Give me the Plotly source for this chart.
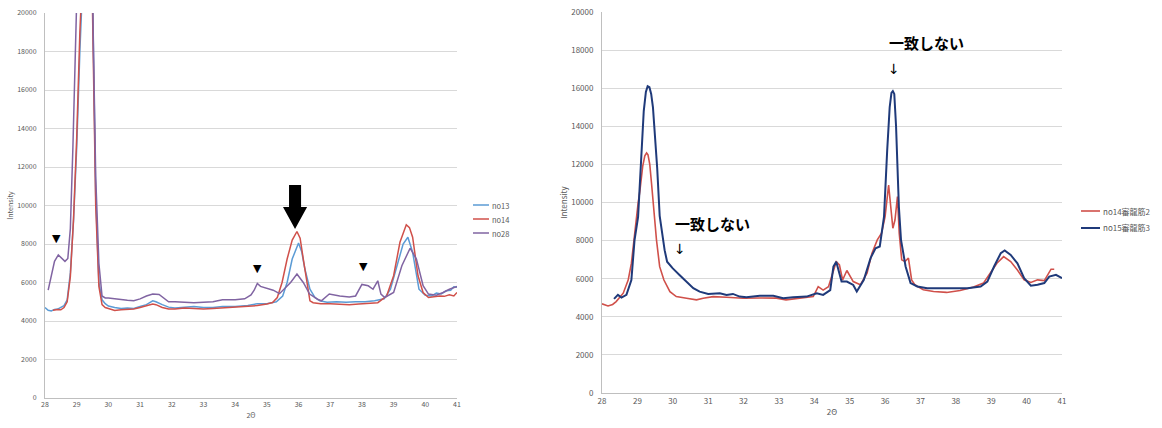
import plotly.graph_objects as go

# ---------------- left chart data ----------------
no13_x = [28.0, 28.1, 28.2, 28.3, 28.4, 28.5, 28.6, 28.7, 28.8, 28.9, 29.0, 29.1, 29.2, 29.35, 29.5, 29.6, 29.7, 29.8, 29.9,
          30.0, 30.2, 30.4, 30.6, 30.8, 31.0, 31.2, 31.4, 31.5, 31.7, 31.9, 32.1, 32.4, 32.7, 33.0, 33.3, 33.6, 34.0, 34.4,
          34.7, 35.0, 35.3, 35.5, 35.64, 35.8, 36.0, 36.1, 36.2, 36.36, 36.52, 36.67, 36.9, 37.2, 37.5, 37.8, 38.1, 38.4,
          38.7, 38.9, 39.15, 39.3, 39.45, 39.6, 39.8, 40.0, 40.2, 40.35, 40.5, 40.66, 40.8, 40.9, 41.0]
no13_y = [4700, 4560, 4520, 4600, 4620, 4700, 4800, 5100, 6500, 9200, 13000, 18000, 24000, 28000, 21000, 10500, 6000, 5100, 4900,
          4780, 4700, 4650, 4680, 4650, 4750, 4850, 5050, 5000, 4850, 4720, 4680, 4720, 4750, 4700, 4700, 4750, 4750, 4800,
          4900, 4900, 5000, 5300, 6000, 7220, 8050, 7600, 6700, 5650, 5220, 5050, 4980, 5000, 4970, 5000, 5000, 5050,
          5150, 5650, 7050, 8000, 8350, 7570, 5650, 5340, 5300, 5450, 5400, 5570, 5600, 5780, 5750]

no14_x = [28.25, 28.4, 28.5, 28.6, 28.7, 28.8, 28.9, 29.0, 29.1, 29.2, 29.35, 29.5, 29.6, 29.7, 29.8, 29.9, 30.0, 30.2, 30.4,
          30.6, 30.8, 31.0, 31.2, 31.4, 31.5, 31.7, 31.9, 32.1, 32.4, 32.7, 33.0, 33.3, 33.6, 34.0, 34.4, 34.7, 35.0, 35.18,
          35.33, 35.48, 35.64, 35.8, 35.95, 36.05, 36.15, 36.26, 36.36, 36.46, 36.7, 37.0, 37.3, 37.6, 37.9, 38.2, 38.5,
          38.78, 39.0, 39.2, 39.4, 39.5, 39.6, 39.77, 39.93, 40.1, 40.3, 40.45, 40.6, 40.76, 40.9, 41.0]
no14_y = [4560, 4600, 4580, 4700, 5000, 6300, 9300, 13500, 19000, 25000, 28500, 20000, 10000, 5800, 4850, 4700, 4650, 4550, 4580,
          4600, 4620, 4700, 4780, 4880, 4850, 4700, 4620, 4620, 4680, 4650, 4620, 4650, 4680, 4700, 4750, 4800, 4880, 4960,
          5220, 6000, 7220, 8200, 8650, 8300, 7220, 6000, 5050, 4950, 4900, 4900, 4880, 4850, 4880, 4900, 4950,
          5300, 6350, 8090, 9000, 8850, 8350, 6350, 5480, 5220, 5250, 5300, 5280, 5360, 5300, 5480]

no28_x = [28.1, 28.2, 28.3, 28.42, 28.5, 28.63, 28.72, 28.8, 28.88, 28.96, 29.1, 29.35, 29.5, 29.6, 29.7, 29.8, 29.9, 30.0, 30.2,
          30.4, 30.6, 30.8, 31.0, 31.2, 31.4, 31.6, 31.8, 31.9, 32.1, 32.4, 32.7, 33.0, 33.3, 33.6, 34.0, 34.3, 34.5, 34.6,
          34.7, 34.8, 35.0, 35.2, 35.4, 35.55, 35.75, 35.95, 36.15, 36.35, 36.6, 36.72, 36.97, 37.3, 37.6, 37.8, 38.0, 38.2,
          38.35, 38.5, 38.6, 38.72, 39.0, 39.26, 39.52, 39.72, 39.93, 40.1, 40.35, 40.56, 40.76, 41.0]
no28_y = [5600, 6300, 7100, 7430, 7300, 7100, 7250, 8800, 13000, 20000, 27000, 29000, 21000, 11500, 7000, 5300, 5200, 5200, 5150,
          5100, 5080, 5050, 5150, 5300, 5400, 5380, 5150, 5000, 5000, 4980, 4950, 4980, 5000, 5100, 5100, 5150, 5350, 5600,
          5950, 5800, 5680, 5600, 5420, 5650, 6000, 6440, 6000, 5400, 5130, 5050, 5400, 5300, 5250, 5300, 5900, 5830,
          5650, 6090, 5400, 5220, 5480, 6870, 7780, 7220, 5830, 5400, 5340, 5480, 5650, 5790]

# ---------------- right chart data ----------------
r14_x = [28.0, 28.17, 28.3, 28.4, 28.6, 28.74, 28.83, 28.92, 29.02, 29.07, 29.15, 29.21, 29.26, 29.3, 29.35, 29.4, 29.47,
         29.54, 29.63, 29.75, 29.92, 30.1, 30.39, 30.67, 30.86, 31.14, 31.52, 31.99, 32.46, 32.93, 33.2, 33.6, 33.97,
         34.11, 34.25, 34.4, 34.54, 34.62, 34.71, 34.8, 34.92, 35.1, 35.3, 35.49, 35.63, 35.78, 35.9, 36.0, 36.1, 36.17,
         36.22, 36.28, 36.35, 36.4, 36.47, 36.56, 36.66, 36.75, 36.84, 37.08, 37.37, 37.74, 38.12, 38.5, 38.78, 38.97,
         39.16, 39.35, 39.55, 39.74, 39.93, 40.12, 40.31, 40.5, 40.69, 40.78]
r14_y = [4680, 4570, 4650, 4800, 5240, 5930, 6800, 8380, 9950, 10600, 11900, 12450, 12600, 12500, 12000, 11000, 9500,
         8030, 6630, 5930, 5320, 5060, 4970, 4890, 4970, 5060, 5030, 4970, 4990, 4980, 4890, 4970, 5060,
         5580, 5400, 5580, 6370, 6890, 6720, 5930, 6430, 5850, 5680, 6290, 7340, 8040, 8390, 9260, 10920, 9780,
         8650, 9080, 10310, 8390, 6990, 6900, 7080, 5940, 5680, 5420, 5330, 5280, 5380, 5560, 5770, 6290,
         6810, 7160, 6900, 6460, 5940, 5800, 5940, 5900, 6500, 6500]

r15_x = [28.34, 28.45, 28.55, 28.69, 28.83, 28.92, 29.02, 29.11, 29.18, 29.24, 29.29, 29.34, 29.39, 29.44, 29.5, 29.56,
         29.63, 29.7, 29.77, 29.84, 30.0, 30.19, 30.39, 30.58, 30.76, 31.0, 31.33, 31.52, 31.7, 31.89, 32.08, 32.46,
         32.84, 33.12, 33.4, 33.78, 34.07, 34.25, 34.45, 34.54, 34.62, 34.68, 34.77, 34.92, 35.1, 35.2, 35.4, 35.59,
         35.73, 35.85, 35.97, 36.06, 36.13, 36.18, 36.22, 36.26, 36.31, 36.39, 36.45, 36.58, 36.72, 36.91, 37.19,
         37.57, 37.95, 38.33, 38.7, 38.89, 39.08, 39.27, 39.38, 39.55, 39.74, 39.93, 40.12, 40.31, 40.5, 40.64,
         40.83, 41.0]
r15_y = [4940, 5150, 5010, 5150, 5930, 8030, 9250, 12600, 14800, 15800, 16100, 16050, 15700, 15000, 13600, 11800,
         9300, 8300, 7500, 6890, 6540, 6190, 5850, 5500, 5320, 5200, 5240, 5150, 5200, 5060, 5030, 5100,
         5100, 4970, 5030, 5060, 5240, 5150, 5400, 6630, 6890, 6460, 5850, 5850, 5670, 5330, 5940, 7080,
         7600, 7690, 9260, 12750, 15000, 15750, 15850, 15700, 14000, 9780, 8040, 6640, 5770, 5590, 5500,
         5500, 5500, 5500, 5590, 5850, 6640, 7340, 7480, 7250, 6810, 6030, 5630, 5680, 5770, 6110,
         6200, 6030]

y_ticks = [0, 2000, 4000, 6000, 8000, 10000, 12000, 14000, 16000, 18000, 20000]
x_ticks = [28, 29, 30, 31, 32, 33, 34, 35, 36, 37, 38, 39, 40, 41]

W, H = 1162, 428
FONT = "Noto Sans CJK JP"
GRAY = "#595959"

C13, C14, C28 = "#5B9BD5", "#D0504A", "#8064A2"
C14R, C15R = "#D0504A", "#1F3A7A"

left_series = [("no13", no13_x, no13_y, C13, 1.5), ("no14", no14_x, no14_y, C14, 1.5),
               ("no28", no28_x, no28_y, C28, 1.5)]
right_series = [("no14審龍筋2", r14_x, r14_y, C14R, 1.6), ("no15審龍筋3", r15_x, r15_y, C15R, 2)]

fig = go.Figure()
for name, xs, ys, col, wd in left_series:
    fig.add_trace(go.Scatter(x=xs, y=ys, name=name, mode="lines", line=dict(color=col, width=wd),
                             xaxis="x", yaxis="y", showlegend=False))
for name, xs, ys, col, wd in right_series:
    fig.add_trace(go.Scatter(x=xs, y=ys, name=name, mode="lines", line=dict(color=col, width=wd),
                             xaxis="x2", yaxis="y2", showlegend=False))

def xax(domain, anchor, size, standoff):
    return dict(domain=domain, anchor=anchor, range=[28, 41], tickvals=x_ticks, showgrid=False,
                showline=True, linecolor="#BFBFBF", linewidth=1, ticks="", zeroline=False,
                tickfont=dict(size=size, color=GRAY, family=FONT), automargin=False,
                title=dict(text="2Θ", font=dict(size=size, color=GRAY, family=FONT), standoff=standoff))

def yax(domain, anchor, size, lstand, standoff):
    return dict(domain=domain, anchor=anchor, range=[0, 20000], tickvals=y_ticks, tickformat="d",
                showgrid=True, gridcolor="#D9D9D9", gridwidth=1, showline=True, linecolor="#BFBFBF",
                ticks="", zeroline=False, automargin=False, ticklabelstandoff=lstand,
                tickfont=dict(size=size, color=GRAY, family=FONT),
                title=dict(text="Intensity", font=dict(size=size, color=GRAY, family=FONT), standoff=standoff))

fig.update_layout(
    width=W, height=H, margin=dict(l=0, r=0, t=0, b=0, autoexpand=False),
    paper_bgcolor="white", plot_bgcolor="white", showlegend=False,
    xaxis=xax([45 / W, 457 / W], "y", 7, 4),
    yaxis=yax([30 / H, 415 / H], "x", 7, 6, 2),
    xaxis2=xax([602 / W, 1062 / W], "y2", 8, 4),
    yaxis2=yax([35 / H, 416 / H], "x2", 8, 6, 2),
)

# manual legends (short line samples like the original)
def add_legend(items, x0, y0, dy, line_len, size):
    for i, (name, _, _, col, wd) in enumerate(items):
        yy = y0 + i * dy
        fig.add_shape(type="line", xref="paper", yref="paper", x0=x0 / W, x1=(x0 + line_len) / W,
                      y0=1 - yy / H, y1=1 - yy / H, line=dict(color=col, width=wd))
        fig.add_annotation(x=(x0 + line_len + 1) / W, y=1 - yy / H, xref="paper", yref="paper",
                           xanchor="left", yanchor="middle", text=name, showarrow=False,
                           font=dict(size=size, color=GRAY, family=FONT))

add_legend(left_series, 473, 205, 14, 16, 7.5)
add_legend(right_series, 1081, 211, 17, 19, 8)

# big black arrow pointing at the no14 peak near 36
ax_c, ax_tip = 35.89, 8780
shaft_half, head_half = 0.19, 0.38
shaft_top, head_base = 11070, 9920
fig.add_shape(type="path", xref="x", yref="y", fillcolor="black", line=dict(width=0),
              path=(f"M {ax_c - shaft_half} {shaft_top} L {ax_c + shaft_half} {shaft_top} "
                    f"L {ax_c + shaft_half} {head_base} L {ax_c + head_half} {head_base} "
                    f"L {ax_c} {ax_tip} L {ax_c - head_half} {head_base} "
                    f"L {ax_c - shaft_half} {head_base} Z"))

# small triangles
for tx, ty in [(28.35, 8300), (34.69, 6750), (38.06, 6850)]:
    fig.add_annotation(x=tx, y=ty, xref="x", yref="y", text="▼", showarrow=False,
                       font=dict(size=11, color="black", family="DejaVu Sans"))

# right chart annotations
fig.add_annotation(x=673 / W, y=1 - 223 / H, xref="paper", yref="paper", xanchor="left", yanchor="middle",
                   text="<b>一致しない</b>", showarrow=False, font=dict(size=15, color="black", family=FONT))
fig.add_annotation(x=680 / W, y=1 - 249 / H, xref="paper", yref="paper", xanchor="center", yanchor="middle",
                   text="↓", showarrow=False, font=dict(size=14, color="black", family="DejaVu Sans"))
fig.add_annotation(x=887 / W, y=1 - 43 / H, xref="paper", yref="paper", xanchor="left", yanchor="middle",
                   text="<b>一致しない</b>", showarrow=False, font=dict(size=15, color="black", family=FONT))
fig.add_annotation(x=894 / W, y=1 - 69 / H, xref="paper", yref="paper", xanchor="center", yanchor="middle",
                   text="↓", showarrow=False, font=dict(size=14, color="black", family="DejaVu Sans"))

fig.write_html("out.html", config={"displayModeBar": False},
               post_script="document.body.style.margin='0';document.body.style.overflow='hidden';")
